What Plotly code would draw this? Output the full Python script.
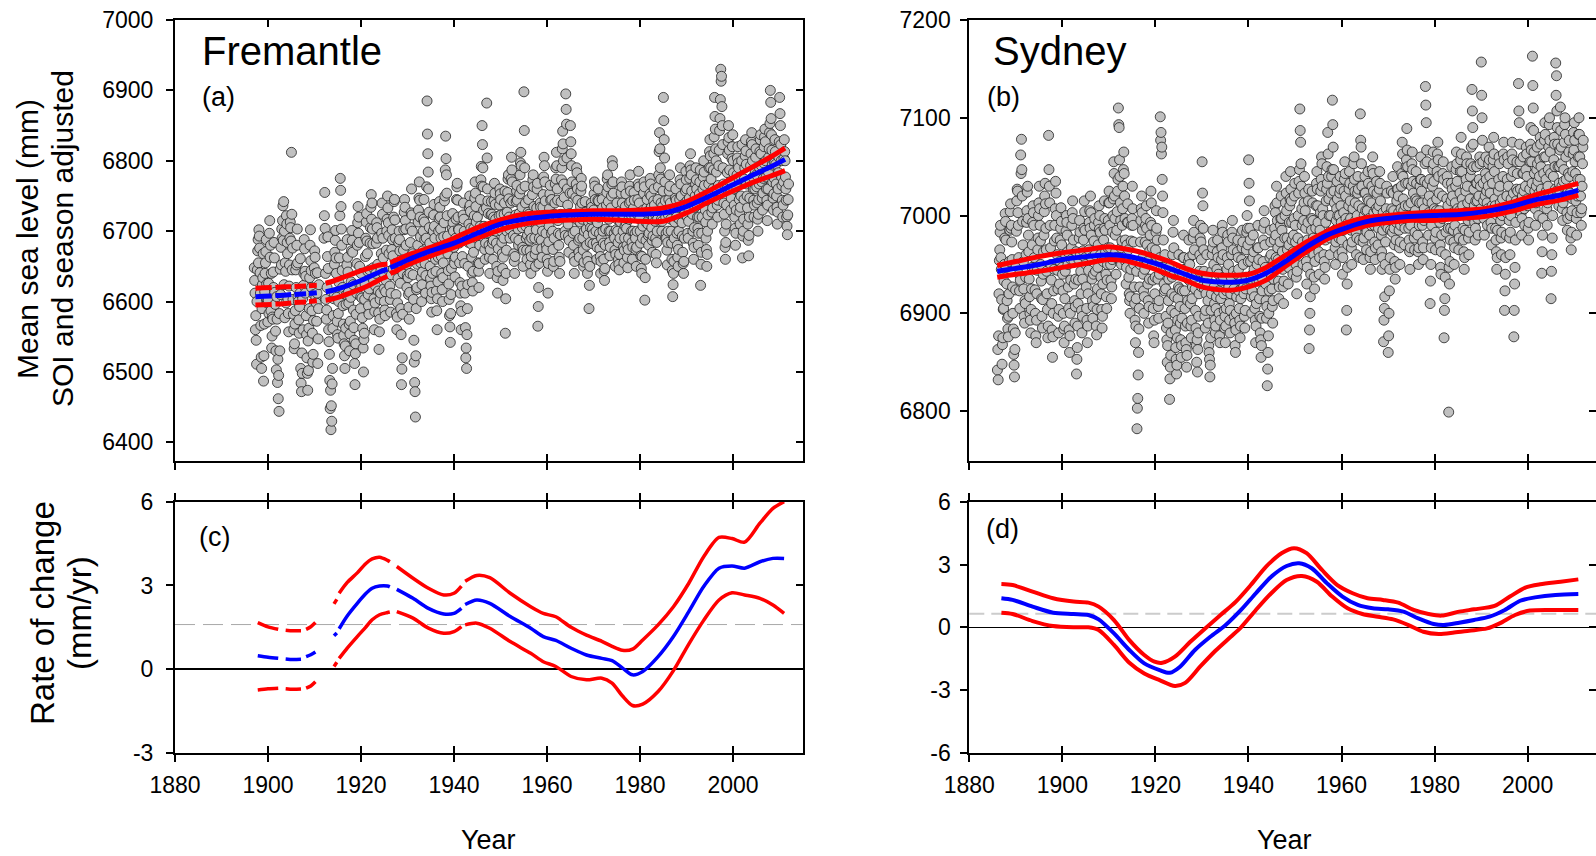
import plotly.graph_objects as go

W, H = 1596, 856
FONT = "Liberation Sans, Arial, sans-serif"

# ---------------- axis ticks ----------------
year_ticks = [1880, 1900, 1920, 1940, 1960, 1980, 2000]
fre_msl_ticks = [6400, 6500, 6600, 6700, 6800, 6900, 7000]
syd_msl_ticks = [6800, 6900, 7000, 7100, 7200]
fre_rate_ticks = [-3, 0, 3, 6]
syd_rate_ticks = [-6, -3, 0, 3, 6]

fre_mean_rate = 1.6
syd_mean_rate = 0.65

# ---------------- Fremantle MSL: odd months (Jan, Mar, ... Nov) ----------------
fre_years = list(range(1897, 1911)) + list(range(1912, 2012))
fre_msl_odd = [
    [6648, 6612, 6580, 6511, 6645, 6688], [6702, 6676, 6612, 6521, 6590, 6634],
    [6487, 6568, 6640, 6671, 6625, 6598], [6602, 6583, 6715, 6680, 6640, 6551],
    [6575, 6620, 6662, 6596, 6530, 6607], [6485, 6462, 6444, 6530, 6610, 6652],
    [6690, 6736, 6742, 6700, 6655, 6598], [6710, 6668, 6583, 6622, 6690, 6705],
    [6812, 6645, 6603, 6560, 6540, 6587], [6620, 6680, 6655, 6600, 6555, 6612],
    [6505, 6472, 6498, 6560, 6640, 6675], [6612, 6580, 6520, 6474, 6502, 6590],
    [6680, 6658, 6620, 6555, 6525, 6610], [6672, 6640, 6598, 6612, 6512, 6590],
    [6690, 6755, 6640, 6575, 6620, 6692], [6560, 6525, 6448, 6418, 6430, 6505],
    [6580, 6612, 6670, 6701, 6640, 6572], [6548, 6600, 6662, 6775, 6735, 6680],
    [6620, 6568, 6540, 6505, 6562, 6610], [6688, 6642, 6598, 6530, 6572, 6628],
    [6701, 6670, 6588, 6545, 6482, 6540], [6612, 6680, 6735, 6720, 6650, 6590],
    [6640, 6605, 6562, 6500, 6555, 6625], [6690, 6725, 6668, 6610, 6582, 6645],
    [6705, 6752, 6740, 6682, 6630, 6560], [6598, 6640, 6712, 6690, 6615, 6532],
    [6575, 6612, 6668, 6740, 6690, 6640], [6600, 6580, 6630, 6700, 6750, 6712],
    [6668, 6622, 6585, 6638, 6702, 6665], [6720, 6745, 6690, 6610, 6560, 6598],
    [6655, 6700, 6672, 6590, 6482, 6520], [6640, 6702, 6745, 6715, 6680, 6620],
    [6660, 6610, 6575, 6640, 6705, 6760], [6700, 6638, 6545, 6485, 6436, 6590],
    [6620, 6680, 6730, 6770, 6720, 6655], [6600, 6642, 6700, 6745, 6688, 6612],
    [6690, 6885, 6810, 6760, 6705, 6650], [6622, 6585, 6640, 6700, 6738, 6690],
    [6660, 6615, 6560, 6628, 6700, 6742], [6720, 6690, 6640, 6600, 6655, 6712],
    [6750, 6835, 6780, 6722, 6668, 6625], [6580, 6542, 6610, 6680, 6725, 6700],
    [6660, 6635, 6690, 6745, 6768, 6720], [6702, 6655, 6612, 6560, 6622, 6690],
    [6740, 6700, 6612, 6520, 6505, 6590], [6650, 6710, 6750, 6728, 6682, 6640],
    [6615, 6670, 6722, 6770, 6735, 6690], [6720, 6655, 6620, 6680, 6745, 6792],
    [6850, 6790, 6730, 6690, 6660, 6705], [6882, 6760, 6725, 6680, 6640, 6700],
    [6742, 6695, 6660, 6720, 6768, 6738], [6700, 6650, 6612, 6675, 6722, 6760],
    [6745, 6700, 6668, 6630, 6690, 6740], [6555, 6640, 6700, 6755, 6780, 6720],
    [6690, 6740, 6805, 6770, 6712, 6668], [6640, 6690, 6742, 6765, 6720, 6680],
    [6725, 6780, 6812, 6760, 6705, 6650], [6898, 6790, 6740, 6690, 6660, 6712],
    [6745, 6700, 6672, 6640, 6690, 6752], [6780, 6735, 6690, 6650, 6702, 6760],
    [6565, 6620, 6690, 6740, 6712, 6675], [6700, 6752, 6805, 6770, 6720, 6680],
    [6660, 6612, 6685, 6732, 6765, 6720], [6745, 6700, 6650, 6690, 6740, 6790],
    [6812, 6760, 6715, 6680, 6640, 6695], [6742, 6790, 6842, 6800, 6748, 6700],
    [6895, 6852, 6760, 6710, 6670, 6725], [6850, 6810, 6770, 6720, 6680, 6640],
    [6700, 6748, 6790, 6760, 6715, 6670], [6690, 6735, 6775, 6740, 6690, 6650],
    [6700, 6742, 6720, 6680, 6640, 6695], [6590, 6650, 6705, 6740, 6720, 6682],
    [6730, 6770, 6745, 6700, 6660, 6712], [6760, 6720, 6675, 6640, 6690, 6745],
    [6700, 6660, 6630, 6680, 6720, 6755], [6780, 6742, 6700, 6665, 6700, 6750],
    [6800, 6770, 6722, 6690, 6650, 6702], [6740, 6700, 6660, 6645, 6690, 6730],
    [6770, 6740, 6700, 6655, 6690, 6735], [6712, 6680, 6648, 6690, 6740, 6780],
    [6742, 6700, 6660, 6700, 6755, 6722], [6690, 6650, 6700, 6745, 6785, 6740],
    [6700, 6665, 6640, 6690, 6730, 6770], [6602, 6660, 6712, 6745, 6710, 6680],
    [6730, 6775, 6750, 6705, 6670, 6720], [6760, 6725, 6690, 6655, 6700, 6745],
    [6780, 6840, 6790, 6740, 6700, 6735], [6890, 6830, 6770, 6720, 6690, 6652],
    [6700, 6745, 6780, 6740, 6700, 6660], [6607, 6640, 6690, 6730, 6760, 6720],
    [6680, 6650, 6700, 6745, 6790, 6750], [6712, 6670, 6640, 6690, 6740, 6785],
    [6760, 6720, 6690, 6730, 6775, 6810], [6780, 6740, 6700, 6660, 6705, 6750],
    [6790, 6760, 6720, 6680, 6720, 6770], [6623, 6670, 6720, 6760, 6800, 6765],
    [6730, 6690, 6650, 6700, 6745, 6790], [6830, 6790, 6750, 6710, 6760, 6810],
    [6890, 6845, 6800, 6760, 6720, 6765], [6815, 6860, 6930, 6920, 6850, 6790],
    [6740, 6700, 6660, 6710, 6760, 6810], [6850, 6815, 6770, 6730, 6770, 6820],
    [6800, 6760, 6720, 6680, 6730, 6780], [6820, 6790, 6745, 6710, 6750, 6800],
    [6662, 6700, 6745, 6790, 6830, 6795], [6750, 6710, 6665, 6720, 6770, 6810],
    [6840, 6800, 6760, 6720, 6760, 6805], [6780, 6740, 6700, 6745, 6790, 6830],
    [6810, 6770, 6730, 6775, 6820, 6845], [6800, 6760, 6715, 6760, 6805, 6840],
    [6900, 6860, 6815, 6770, 6730, 6775], [6830, 6795, 6750, 6710, 6760, 6805],
    [6890, 6850, 6800, 6765, 6720, 6770], [6830, 6800, 6760, 6720, 6695, 6745],
]

# ---------------- Fremantle MSL: even months (Feb, Apr, ... Dec) ----------------
fre_msl_even = [
    [6630, 6560, 6545, 6600, 6672, 6655], [6693, 6641, 6566, 6505, 6624, 6668],
    [6523, 6614, 6655, 6688, 6602, 6571], [6626, 6697, 6663, 6587, 6534, 6578],
    [6642, 6684, 6613, 6558, 6503, 6575], [6518, 6495, 6583, 6646, 6677, 6703],
    [6715, 6687, 6624, 6577, 6643, 6722], [6684, 6604, 6557, 6652, 6713, 6686],
    [6724, 6676, 6582, 6533, 6568, 6645], [6652, 6703, 6607, 6574, 6593, 6661],
    [6484, 6527, 6604, 6623, 6688, 6643], [6636, 6553, 6498, 6544, 6562, 6634],
    [6702, 6644, 6587, 6514, 6573, 6648], [6663, 6606, 6572, 6641, 6547, 6624],
    [6722, 6704, 6603, 6588, 6664, 6647], [6543, 6488, 6474, 6452, 6483, 6562],
    [6604, 6653, 6687, 6662, 6606, 6553], [6583, 6627, 6722, 6758, 6703, 6644],
    [6594, 6552, 6523, 6537, 6596, 6652], [6663, 6613, 6568, 6554, 6606, 6672],
    [6687, 6624, 6563, 6512, 6526, 6582], [6654, 6712, 6697, 6684, 6623, 6607],
    [6623, 6577, 6534, 6546, 6603, 6664], [6713, 6686, 6643, 6594, 6618, 6683],
    [6734, 6717, 6703, 6648, 6604, 6586], [6622, 6683, 6705, 6653, 6584, 6557],
    [6603, 6644, 6697, 6724, 6662, 6618], [6588, 6614, 6673, 6717, 6733, 6694],
    [6643, 6603, 6612, 6674, 6688, 6646], [6742, 6716, 6654, 6583, 6578, 6633],
    [6684, 6688, 6626, 6553, 6504, 6582], [6673, 6727, 6734, 6703, 6652, 6637],
    [6634, 6592, 6613, 6684, 6726, 6723], [6668, 6603, 6514, 6472, 6523, 6617],
    [6653, 6713, 6747, 6744, 6692, 6634], [6624, 6672, 6717, 6713, 6654, 6637],
    [6763, 6838, 6784, 6727, 6683, 6633], [6604, 6613, 6668, 6723, 6707, 6664],
    [6643, 6587, 6604, 6663, 6718, 6734], [6703, 6664, 6617, 6634, 6692, 6743],
    [6787, 6803, 6754, 6693, 6644, 6603], [6564, 6583, 6647, 6704, 6712, 6677],
    [6654, 6663, 6717, 6763, 6744, 6703], [6683, 6627, 6594, 6586, 6664, 6723],
    [6717, 6654, 6563, 6534, 6553, 6624], [6684, 6733, 6737, 6704, 6663, 6627],
    [6643, 6704, 6747, 6754, 6713, 6696], [6694, 6643, 6654, 6707, 6773, 6764],
    [6823, 6763, 6707, 6674, 6683, 6733], [6804, 6743, 6697, 6663, 6674, 6723],
    [6724, 6683, 6687, 6743, 6754, 6717], [6683, 6634, 6643, 6704, 6737, 6753],
    [6723, 6684, 6647, 6663, 6724, 6757], [6604, 6673, 6727, 6774, 6746, 6703],
    [6713, 6774, 6787, 6743, 6694, 6657], [6664, 6723, 6757, 6744, 6703, 6687],
    [6753, 6797, 6793, 6734, 6677, 6673], [6843, 6764, 6707, 6673, 6694, 6727],
    [6724, 6687, 6653, 6664, 6717, 6773], [6763, 6714, 6667, 6674, 6733, 6768],
    [6593, 6654, 6717, 6734, 6687, 6663], [6734, 6777, 6793, 6743, 6697, 6674],
    [6643, 6654, 6707, 6753, 6744, 6697], [6723, 6674, 6657, 6724, 6767, 6774],
    [6793, 6744, 6697, 6663, 6657, 6724], [6773, 6817, 6824, 6767, 6723, 6694],
    [6873, 6804, 6737, 6693, 6687, 6754], [6827, 6793, 6754, 6697, 6663, 6657],
    [6724, 6767, 6783, 6744, 6687, 6663], [6713, 6757, 6764, 6717, 6673, 6656],
    [6724, 6727, 6703, 6664, 6657, 6713], [6623, 6684, 6717, 6734, 6703, 6696],
    [6753, 6764, 6717, 6683, 6677, 6744], [6743, 6697, 6664, 6657, 6724, 6733],
    [6683, 6644, 6647, 6703, 6737, 6774], [6763, 6717, 6684, 6677, 6733, 6767],
    [6793, 6754, 6697, 6673, 6667, 6724], [6717, 6684, 6653, 6667, 6713, 6754],
    [6763, 6724, 6677, 6673, 6707, 6753], [6704, 6663, 6674, 6717, 6764, 6757],
    [6723, 6684, 6677, 6733, 6744, 6697], [6674, 6677, 6724, 6767, 6763, 6717],
    [6683, 6647, 6664, 6707, 6754, 6763], [6634, 6687, 6733, 6727, 6694, 6697],
    [6753, 6767, 6734, 6687, 6693, 6743], [6737, 6714, 6667, 6684, 6717, 6763],
    [6813, 6817, 6774, 6717, 6714, 6757], [6857, 6804, 6743, 6697, 6673, 6684],
    [6723, 6757, 6764, 6717, 6683, 6644], [6624, 6657, 6713, 6747, 6744, 6697],
    [6663, 6674, 6717, 6773, 6767, 6734], [6693, 6654, 6657, 6724, 6757, 6773],
    [6743, 6697, 6714, 6747, 6793, 6787], [6757, 6724, 6683, 6677, 6734, 6767],
    [6773, 6737, 6704, 6697, 6753, 6787], [6653, 6697, 6744, 6777, 6784, 6747],
    [6713, 6674, 6667, 6723, 6767, 6813], [6807, 6774, 6727, 6733, 6787, 6834],
    [6863, 6817, 6784, 6737, 6744, 6793], [6843, 6887, 6913, 6877, 6823, 6767],
    [6724, 6677, 6684, 6737, 6783, 6827], [6833, 6787, 6754, 6747, 6803, 6837],
    [6783, 6737, 6704, 6697, 6763, 6804], [6797, 6774, 6727, 6734, 6777, 6823],
    [6693, 6717, 6774, 6807, 6814, 6767], [6733, 6687, 6694, 6747, 6793, 6827],
    [6823, 6777, 6744, 6737, 6784, 6817], [6763, 6717, 6724, 6767, 6813, 6837],
    [6793, 6747, 6754, 6797, 6834, 6827], [6777, 6744, 6737, 6784, 6817, 6853],
    [6883, 6837, 6794, 6747, 6753, 6797], [6813, 6767, 6734, 6727, 6783, 6827],
    [6867, 6823, 6777, 6744, 6737, 6803], [6813, 6777, 6744, 6707, 6723, 6767],
]

# ---------------- Sydney MSL: odd months ----------------
syd_years = list(range(1886, 2012))
syd_msl_odd = [
    [6842, 6832, 6920, 6965, 6990, 6945], [6848, 6875, 6905, 6950, 7002, 6975],
    [6930, 6895, 6876, 6920, 6985, 7012], [6990, 6955, 6900, 6858, 6835, 6880],
    [6950, 7015, 7025, 6990, 6940, 6905], [7062, 7078, 7020, 6970, 6925, 6890],
    [6910, 6960, 7005, 7030, 6980, 6935], [6900, 6880, 6925, 6970, 7010, 6990],
    [6945, 6900, 6870, 6920, 6965, 7000], [7030, 6990, 6950, 6915, 6885, 6940],
    [6980, 7020, 7012, 6965, 6920, 6875], [7082, 7030, 6990, 6950, 6910, 6855],
    [6900, 6945, 6990, 7035, 7000, 6960], [6925, 6880, 6930, 6975, 7008, 6970],
    [6940, 6900, 6870, 6915, 6960, 7000], [6980, 6950, 6905, 6860, 6900, 6955],
    [6990, 7015, 6975, 6930, 6890, 6935], [6838, 6865, 6910, 6955, 6995, 6960],
    [6920, 6880, 6935, 6975, 7015, 6985], [6950, 6905, 6870, 6920, 6965, 7005],
    [7020, 6980, 6935, 6895, 6940, 6990], [6960, 6915, 6878, 6925, 6970, 7010],
    [7000, 6960, 6920, 6885, 6930, 6975], [7015, 6985, 6940, 6905, 6950, 6995],
    [7025, 6990, 6950, 6915, 6955, 7000], [7055, 7020, 6980, 6940, 6985, 7025],
    [7110, 7090, 7040, 6995, 6950, 6990], [7030, 7065, 7020, 6975, 6930, 6970],
    [7012, 6965, 6920, 6900, 6945, 6990], [7030, 6990, 6950, 6910, 6870, 6915],
    [6782, 6813, 6860, 6905, 6950, 6995], [7020, 6985, 6940, 6900, 6945, 6990],
    [7010, 6970, 6930, 6890, 6935, 6980], [7025, 6990, 6950, 6905, 6870, 6920],
    [6965, 7005, 6975, 6935, 6895, 6940], [7101, 7085, 7070, 7020, 6975, 6930],
    [6960, 6925, 6885, 6850, 6890, 6935], [6812, 6845, 6880, 6920, 6960, 6995],
    [6940, 6900, 6865, 6838, 6875, 6915], [6960, 6925, 6890, 6855, 6895, 6940],
    [6980, 6945, 6905, 6870, 6845, 6890], [6935, 6975, 6950, 6910, 6875, 6915],
    [6960, 6995, 6965, 6925, 6885, 6850], [6840, 6880, 6920, 6960, 6990, 6955],
    [7055, 7010, 6965, 6925, 6885, 6920], [6960, 6930, 6890, 6860, 6835, 6875],
    [6920, 6960, 6985, 6950, 6910, 6880], [6905, 6945, 6975, 6940, 6900, 6870],
    [6915, 6955, 6990, 6960, 6920, 6885], [6870, 6905, 6945, 6980, 6950, 6910],
    [6880, 6920, 6960, 6995, 6965, 6925], [6890, 6860, 6900, 6940, 6975, 6945],
    [6905, 6875, 6915, 6955, 6985, 6950], [6920, 6885, 6925, 6965, 7000, 6970],
    [7057, 7015, 6975, 6935, 6900, 6940], [6980, 6945, 6905, 6870, 6910, 6950],
    [6990, 6955, 6915, 6880, 6855, 6895], [6935, 6975, 7005, 6970, 6930, 6895],
    [6826, 6860, 6900, 6945, 6985, 6960], [6925, 6890, 6935, 6975, 7010, 6980],
    [7030, 6995, 6955, 6915, 6950, 6990], [7020, 6985, 6945, 6910, 6955, 7000],
    [7040, 7005, 6965, 6930, 6970, 7010], [7045, 7015, 6975, 6940, 6980, 7020],
    [6990, 6950, 6920, 6960, 7000, 7035], [7109, 7075, 7030, 6990, 6950, 6995],
    [7040, 7005, 6965, 6930, 6975, 7015], [6864, 6900, 6940, 6985, 7025, 6995],
    [6960, 6925, 6970, 7010, 7045, 7010], [6975, 6940, 6985, 7025, 7060, 7030],
    [7000, 6960, 6935, 6975, 7015, 7050], [7085, 7040, 7000, 6960, 7000, 7040],
    [7118, 7070, 7025, 6985, 6950, 6995], [7035, 7000, 6960, 7000, 7040, 7010],
    [6975, 6940, 6985, 7025, 7055, 7020], [6883, 6930, 6970, 7010, 7045, 7015],
    [6985, 6950, 6990, 7030, 7060, 7025], [6995, 6960, 7000, 7040, 7010, 6975],
    [7104, 7070, 7030, 6990, 6955, 7000], [7040, 7005, 6965, 7005, 7045, 7015],
    [6980, 6945, 6990, 7030, 7060, 7025], [6990, 6955, 6995, 7035, 7005, 6970],
    [7010, 7045, 7015, 6980, 6945, 6985], [6871, 6905, 6950, 6990, 7030, 7000],
    [6860, 6900, 6945, 6985, 7025, 6995], [7040, 7005, 6970, 6935, 6975, 7015],
    [7050, 7020, 6985, 6950, 6990, 7030], [7075, 7040, 7005, 6970, 7010, 7050],
    [7089, 7050, 7010, 6975, 6945, 6990], [7030, 7065, 7035, 7000, 6965, 7005],
    [7045, 7015, 6980, 6950, 6990, 7030], [7060, 7025, 6990, 6955, 6995, 7035],
    [7132, 7095, 7055, 7015, 6980, 7020], [6910, 6950, 6990, 7030, 7065, 7035],
    [7000, 6965, 7005, 7045, 7075, 7040], [7005, 6970, 6940, 6980, 7020, 7055],
    [6875, 6915, 6960, 7000, 7040, 7010], [6799, 6930, 6975, 7015, 7050, 7020],
    [6985, 6950, 6990, 7030, 7065, 7035], [7000, 6965, 7005, 7045, 7080, 7045],
    [7010, 6975, 6945, 6985, 7025, 7060], [7030, 6995, 6960, 7000, 7040, 7070],
    [7129, 7090, 7050, 7010, 6975, 7015], [7050, 7015, 6980, 7020, 7060, 7030],
    [7157, 7100, 7055, 7015, 6980, 7020], [7060, 7025, 6990, 7030, 7070, 7040],
    [7005, 6970, 7010, 7050, 7080, 7045], [7010, 6975, 6945, 6985, 7025, 7060],
    [7030, 6995, 6960, 7000, 7040, 7075], [6903, 6940, 6980, 7020, 7060, 7030],
    [6995, 6960, 7000, 7040, 7075, 7045], [6876, 6930, 6975, 7015, 7055, 7025],
    [7135, 7095, 7055, 7015, 6980, 7020], [7060, 7025, 6990, 7030, 7070, 7040],
    [7010, 6975, 7015, 7055, 7090, 7055], [7163, 7110, 7065, 7025, 6990, 7030],
    [7070, 7035, 7000, 7040, 7080, 7050], [6941, 6980, 7020, 7060, 7095, 7060],
    [7025, 6990, 7030, 7070, 7100, 7065], [6915, 6960, 7000, 7040, 7080, 7050],
    [7156, 7143, 7090, 7050, 7010, 7050], [7111, 7070, 7030, 6995, 7035, 7075],
    [7100, 7060, 7020, 6985, 7025, 7065], [7040, 7000, 6965, 7005, 7045, 7085],
    [7095, 7055, 7015, 6980, 7020, 7060], [7100, 7060, 7020, 6990, 7030, 7070],
]

# ---------------- Sydney MSL: even months ----------------
syd_msl_even = [
    [6863, 6877, 6954, 6983, 6957, 6914], [6868, 6904, 6933, 6977, 6994, 6947],
    [6913, 6884, 6897, 6953, 7004, 6987], [6973, 6927, 6884, 6847, 6863, 6924],
    [6984, 7027, 7003, 6957, 6923, 6934], [7043, 7047, 6994, 6953, 6897, 6913],
    [6937, 6993, 7024, 6997, 6963, 6917], [6893, 6904, 6947, 6993, 7003, 6957],
    [6924, 6877, 6893, 6944, 6977, 7013], [7007, 6974, 6933, 6897, 6914, 6963],
    [7004, 7033, 6987, 6943, 6904, 6887], [7047, 7013, 6967, 6934, 6883, 6876],
    [6923, 6974, 7007, 7023, 6977, 6944], [6897, 6904, 6953, 6987, 6994, 6947],
    [6923, 6884, 6887, 6943, 6984, 6993], [6963, 6927, 6883, 6877, 6934, 6967],
    [7003, 6997, 6954, 6913, 6907, 6963], [6853, 6887, 6934, 6977, 6983, 6943],
    [6903, 6897, 6964, 6987, 7004, 6957], [6927, 6893, 6887, 6944, 6993, 6987],
    [7003, 6957, 6913, 6907, 6974, 6997], [6943, 6887, 6904, 6947, 6993, 6986],
    [6983, 6937, 6904, 6897, 6953, 6987], [6997, 6963, 6917, 6934, 6967, 7013],
    [7013, 6967, 6934, 6927, 6983, 7017], [7043, 6997, 6963, 6957, 7004, 7037],
    [7093, 7057, 7013, 6967, 6974, 7007], [7047, 7043, 6997, 6953, 6947, 6993],
    [6993, 6937, 6913, 6917, 6974, 6997], [7007, 6973, 6927, 6893, 6887, 6943],
    [6803, 6837, 6884, 6927, 6973, 7007], [7003, 6957, 6923, 6917, 6973, 6997],
    [6987, 6953, 6913, 6907, 6964, 6993], [7013, 6967, 6934, 6877, 6893, 6937],
    [6983, 6987, 6954, 6907, 6913, 6957], [7077, 7063, 7037, 7003, 6947, 6923],
    [6943, 6897, 6873, 6867, 6913, 6947], [6833, 6857, 6903, 6937, 6983, 6967],
    [6917, 6883, 6853, 6847, 6893, 6927], [6943, 6907, 6873, 6867, 6923, 6957],
    [6957, 6923, 6887, 6863, 6857, 6913], [6953, 6957, 6933, 6887, 6893, 6927],
    [6977, 6983, 6937, 6903, 6867, 6873], [6863, 6897, 6943, 6977, 6973, 6927],
    [7023, 6987, 6943, 6897, 6903, 6937], [6937, 6913, 6867, 6853, 6847, 6903],
    [6943, 6967, 6973, 6927, 6893, 6887], [6917, 6963, 6957, 6923, 6877, 6893],
    [6933, 6967, 6983, 6937, 6903, 6897], [6887, 6923, 6957, 6973, 6927, 6893],
    [6903, 6937, 6983, 6977, 6943, 6897], [6867, 6883, 6917, 6963, 6957, 6923],
    [6893, 6887, 6933, 6967, 6973, 6927], [6897, 6903, 6937, 6983, 6987, 6953],
    [7033, 6987, 6953, 6917, 6923, 6957], [6963, 6917, 6893, 6887, 6933, 6967],
    [6967, 6933, 6897, 6873, 6867, 6923], [6953, 6987, 6993, 6947, 6913, 6907],
    [6843, 6877, 6923, 6957, 6973, 6937], [6907, 6913, 6953, 6987, 7003, 6957],
    [7013, 6967, 6933, 6927, 6973, 6997], [6997, 6963, 6927, 6933, 6977, 7013],
    [7023, 6977, 6953, 6947, 6993, 7017], [7027, 6993, 6957, 6963, 6997, 7033],
    [6973, 6937, 6943, 6977, 7023, 7047], [7087, 7053, 7007, 6973, 6967, 7013],
    [7023, 6987, 6953, 6947, 6993, 7027], [6883, 6917, 6963, 6997, 7013, 6977],
    [6937, 6953, 6987, 7033, 7027, 6993], [6963, 6957, 7003, 7037, 7053, 7007],
    [6977, 6953, 6947, 6993, 7027, 7033], [7063, 7017, 6983, 6977, 7023, 7047],
    [7093, 7047, 7013, 6967, 6973, 7007], [7017, 6983, 6977, 7023, 7027, 6993],
    [6963, 6957, 7003, 7037, 7043, 6997], [6903, 6947, 6993, 7027, 7033, 6997],
    [6967, 6973, 7007, 7053, 7037, 7013], [6983, 6977, 7023, 7027, 6993, 6957],
    [7077, 7053, 7007, 6973, 6977, 7023], [7023, 6987, 6983, 7017, 7033, 6997],
    [6957, 6963, 7013, 7047, 7043, 7003], [6973, 6967, 7007, 7023, 6993, 6987],
    [7027, 7033, 6997, 6963, 6957, 7003], [6893, 6917, 6973, 7007, 7023, 6987],
    [6877, 6923, 6957, 7003, 7007, 6983], [7023, 6987, 6953, 6947, 6993, 7027],
    [7027, 7003, 6967, 6973, 7007, 7043], [7063, 7017, 6993, 6987, 7033, 7057],
    [7067, 7033, 6987, 6963, 6967, 7013], [7053, 7047, 7023, 6977, 6983, 7017],
    [7033, 6997, 6963, 6967, 7013, 7037], [7037, 7013, 6973, 6967, 7007, 7053],
    [7113, 7067, 7033, 6997, 7003, 7037], [6933, 6967, 7013, 7047, 7053, 7007],
    [6977, 6983, 7017, 7063, 7057, 7023], [6993, 6947, 6963, 6997, 7043, 7037],
    [6903, 6937, 6983, 7017, 7033, 6987], [6947, 6953, 6987, 7033, 7027, 7003],
    [6973, 6967, 7013, 7047, 7053, 7007], [6983, 6977, 7023, 7057, 7063, 7017],
    [6987, 6963, 6957, 7003, 7037, 7053], [7013, 6977, 6983, 7017, 7053, 7047],
    [7107, 7073, 7027, 6993, 6987, 7033], [7033, 6997, 7003, 7037, 7053, 7007],
    [7123, 7077, 7033, 6997, 7003, 7043], [7037, 7013, 7007, 7053, 7057, 7023],
    [6993, 6987, 7033, 7057, 7063, 7017], [6987, 6963, 6957, 7003, 7037, 7053],
    [7013, 6977, 6983, 7017, 7063, 7057], [6923, 6957, 7003, 7037, 7053, 7007],
    [6977, 6983, 7017, 7063, 7057, 7023], [6903, 6947, 6993, 7027, 7043, 7007],
    [7107, 7073, 7027, 7003, 6997, 7043], [7043, 7007, 7013, 7047, 7063, 7017],
    [6987, 6993, 7027, 7073, 7067, 7033], [7133, 7087, 7043, 7007, 7013, 7047],
    [7053, 7017, 7023, 7057, 7073, 7027], [6963, 6997, 7043, 7077, 7083, 7037],
    [7007, 7013, 7047, 7093, 7077, 7043], [6943, 6977, 7023, 7057, 7073, 7027],
    [7123, 7107, 7073, 7027, 7033, 7067], [7087, 7053, 7007, 7013, 7047, 7093],
    [7083, 7037, 7003, 6997, 7043, 7077], [7023, 6977, 6983, 7017, 7063, 7067],
    [7077, 7043, 6997, 7003, 7037, 7083], [7083, 7037, 7003, 7007, 7053, 7077],
]

# ---------------- Fremantle fitted trend and 95% limits ----------------
fre_fit_years = [1897.3, 1899.0, 1900.8, None, 1901.6, 1903.3, 1905.0, None, 1905.7, 1908.2, None,
                 1908.8, 1910.5, None, 1912.4, 1914.0, 1916.0, 1918.0, 1920.0, 1922.0, 1924.0, 1925.7, None,
                 1926.3, 1928.0, 1930.0, 1935.0, 1940.0, 1945.0, 1950.0, 1955.0, 1960.0, 1965.0, 1970.0,
                 1975.0, 1980.0, 1985.0, 1990.0, 1995.0, 2000.0, 2005.0, 2008.0, 2011.2]
fre_fit_mid = [6607, 6607.5, 6608, None, 6608.5, 6609, 6610, None, 6610, 6611, None,
               6611.5, 6612.5, None, 6614, 6616, 6620, 6625, 6630, 6636, 6642, 6646, None,
               6648, 6653, 6659, 6672, 6683, 6697, 6710, 6717, 6721, 6723, 6724,
               6724, 6724, 6726, 6735, 6750, 6766, 6782, 6791, 6802]
fre_fit_upper = [6619, 6619.5, 6620, None, 6620, 6621, 6621, None, 6621.5, 6622, None,
                 6622.5, 6623, None, 6626, 6629, 6634, 6639, 6644, 6648, 6652, 6653, None,
                 6655, 6660, 6666, 6677, 6690, 6705, 6716, 6724, 6727, 6728, 6729,
                 6729, 6730, 6733, 6742, 6758, 6776, 6794, 6805, 6818]
fre_fit_lower = [6595, 6595.5, 6596, None, 6596.5, 6597, 6598, None, 6598.5, 6599.5, None,
                 6600, 6601, None, 6602, 6604, 6608, 6613, 6618, 6624, 6631, 6636, None,
                 6640, 6645, 6652, 6665, 6677, 6690, 6702, 6710, 6714, 6716, 6717,
                 6716, 6714, 6714, 6726, 6742, 6757, 6771, 6778, 6786]

# ---------------- Sydney fitted trend and 95% limits ----------------
syd_fit_years = [1886.0, 1890, 1895, 1900, 1905, 1910, 1913.3, 1916.5, 1920, 1923, 1926.4,
                 1930, 1934, 1937, 1940, 1943.8, 1948.2, 1952.5, 1956.9, 1961.3, 1965.6,
                 1970, 1974.4, 1979.8, 1985.3, 1990.7, 1996.2, 2001.6, 2007.1, 2010.9]
syd_fit_mid = [6943, 6946, 6950, 6955, 6958, 6960, 6959, 6956, 6951, 6946, 6940,
               6934, 6932, 6932, 6934, 6941, 6954, 6968, 6980, 6988, 6994,
               6997, 6999, 7000, 7001, 7004, 7009, 7016, 7021, 7026]
syd_fit_upper = [6949, 6953, 6958, 6962, 6965, 6968, 6966, 6963, 6958, 6953, 6946,
                 6941, 6939, 6939, 6940, 6947, 6960, 6973, 6984, 6993, 6998,
                 7000, 7002, 7004, 7005, 7007, 7013, 7021, 7028, 7033]
syd_fit_lower = [6937, 6940, 6943, 6947, 6951, 6955, 6954, 6950, 6945, 6939, 6934,
                 6927, 6924, 6924, 6927, 6934, 6949, 6963, 6976, 6984, 6990,
                 6993, 6995, 6995, 6997, 6999, 7004, 7011, 7016, 7021]

# ---------------- Fremantle rate of change ----------------
fre_rate_years = [1897.8, 1900.0, 1902.2, None, 1903.8, 1905.4, 1907.1, None, 1908.2, 1909.2, 1910.2, None,
                  1914.2, 1914.8, None, 1915.3, 1917.0, 1919.2, 1921.0, 1922.4, 1924.0, 1925.7, 1926.2, None,
                  1927.7, 1931.2, 1934.5, 1937.8, 1940.0, 1941.6, None,
                  1942.4, 1944.9, 1947.7, 1952.1, 1956.5, 1959.2, 1961.9, 1965.2, 1968.5, 1971.8, 1974.0,
                  1976.2, 1978.4, 1980.6, 1983.9, 1987.2, 1990.5, 1993.7, 1997.0, 1999.8, 2002.5, 2005.8,
                  2008.6, 2011.0]
fre_rate_mid = [0.48, 0.43, 0.39, None, 0.37, 0.35, 0.36, None, 0.45, 0.52, 0.62, None,
                1.2, 1.3, None, 1.45, 1.9, 2.36, 2.7, 2.9, 2.98, 2.98, 2.95, None,
                2.86, 2.54, 2.18, 1.98, 2.0, 2.18, None,
                2.32, 2.48, 2.36, 1.89, 1.47, 1.17, 1.03, 0.75, 0.51, 0.39, 0.31,
                0.05, -0.2, -0.08, 0.45, 1.17, 2.06, 2.96, 3.62, 3.7, 3.62, 3.85,
                3.97, 3.97]
fre_rate_upper = [1.67, 1.52, 1.43, None, 1.40, 1.38, 1.38, None, 1.43, 1.52, 1.67, None,
                  2.34, 2.5, None, 2.72, 3.1, 3.45, 3.78, 3.95, 4.01, 3.9, 3.85, None,
                  3.68, 3.26, 2.9, 2.66, 2.72, 2.98, None,
                  3.15, 3.36, 3.28, 2.72, 2.24, 2.0, 1.88, 1.5, 1.22, 1.0, 0.82,
                  0.68, 0.72, 1.05, 1.59, 2.24, 3.08, 4.03, 4.72, 4.68, 4.55, 5.23,
                  5.76, 6.0]
fre_rate_lower = [-0.74, -0.70, -0.68, None, -0.70, -0.72, -0.71, None, -0.68, -0.6, -0.45, None,
                  0.1, 0.25, None, 0.39, 0.75, 1.17, 1.5, 1.77, 1.95, 2.03, 2.05, None,
                  2.06, 1.83, 1.47, 1.29, 1.35, 1.53, None,
                  1.59, 1.65, 1.47, 0.99, 0.57, 0.27, 0.1, -0.26, -0.38, -0.32, -0.5,
                  -0.95, -1.3, -1.25, -0.8, -0.05, 0.9, 1.75, 2.48, 2.74, 2.66, 2.54,
                  2.3, 2.0]

# ---------------- Sydney rate of change ----------------
syd_rate_mid_years = [1886.9, 1889.3, 1893.6, 1898.0, 1902.4, 1905.6, 1907.8, 1911.1, 1914.4, 1917.6,
                      1920.9, 1923.1, 1925.3, 1928.5, 1931.8, 1935.1, 1938.4, 1941.6, 1944.9, 1948.2,
                      1950.9, 1953.6, 1956.9, 1960.2, 1963.5, 1966.7, 1970.0, 1973.3, 1976.5, 1979.8,
                      1982.0, 1985.3, 1988.5, 1991.8, 1995.1, 1998.4, 2001.6, 2006.0, 2010.9]
syd_rate_mid = [1.39, 1.31, 0.99, 0.70, 0.64, 0.59, 0.38, -0.29, -1.08, -1.72,
                -2.04, -2.17, -1.88, -1.08, -0.45, 0.11, 0.83, 1.63, 2.42, 2.93,
                3.06, 2.82, 2.10, 1.47, 1.07, 0.91, 0.86, 0.75, 0.43, 0.16,
                0.11, 0.22, 0.35, 0.51, 0.83, 1.27, 1.43, 1.55, 1.59]
syd_rate_upper_years = [1886.9, 1889.3, 1893.6, 1898.0, 1902.4, 1905.6, 1907.8, 1911.1, 1914.4, 1917.6,
                        1919.8, 1921.5, 1924.2, 1927.5, 1930.7, 1934.0, 1937.3, 1940.5, 1943.8, 1947.1,
                        1949.8, 1952.5, 1955.8, 1959.1, 1962.4, 1965.6, 1968.9, 1972.2, 1975.5, 1978.7,
                        1981.5, 1985.3, 1988.5, 1992.9, 1996.2, 1999.5, 2002.7, 2007.1, 2010.9]
syd_rate_upper = [2.07, 2.02, 1.71, 1.39, 1.23, 1.18, 0.99, 0.35, -0.61, -1.32,
                  -1.64, -1.69, -1.40, -0.69, -0.05, 0.59, 1.23, 2.02, 2.90, 3.54,
                  3.78, 3.54, 2.74, 2.02, 1.63, 1.39, 1.31, 1.18, 0.83, 0.64,
                  0.56, 0.75, 0.86, 1.02, 1.47, 1.90, 2.06, 2.18, 2.29]
syd_rate_lower_years = [1886.9, 1889.3, 1893.6, 1898.0, 1902.4, 1905.6, 1907.8, 1911.1, 1914.4, 1917.6,
                        1920.9, 1924.2, 1926.4, 1929.6, 1932.9, 1936.2, 1938.4, 1941.6, 1944.9, 1948.2,
                        1951.5, 1954.7, 1958.0, 1961.3, 1964.5, 1967.8, 1971.1, 1974.4, 1977.6, 1980.9,
                        1984.2, 1987.4, 1991.3, 1994.0, 1997.3, 2000.5, 2004.9, 2010.9]
syd_rate_lower = [0.70, 0.64, 0.30, 0.06, 0.00, 0.00, -0.13, -0.84, -1.69, -2.20,
                  -2.52, -2.80, -2.65, -1.88, -1.12, -0.45, 0.00, 0.83, 1.63, 2.26,
                  2.45, 2.18, 1.47, 0.91, 0.64, 0.51, 0.38, 0.11, -0.21, -0.32,
                  -0.25, -0.16, -0.05, 0.19, 0.59, 0.80, 0.83, 0.83]

RED = "#FF0000"
BLUE = "#0000FF"


def px_x(p):
    return p / W


def px_y(p):
    return 1 - p / H


def flatten(years, odd_rows, even_rows):
    """Monthly time stamps: odd months at (2k+0.5)/12, even months at (2k+1.5)/12."""
    xs, ys = [], []
    for yr, r1, r2 in zip(years, odd_rows, even_rows):
        for k in range(6):
            xs.append(yr + (2 * k + 0.5) / 12)
            ys.append(r1[k])
            xs.append(yr + (2 * k + 1.5) / 12)
            ys.append(r2[k])
    return xs, ys


def tick_text(vals):
    return [str(v) for v in vals]


fig = go.Figure()


def add_line(x, y, color, width, ax):
    fig.add_trace(go.Scatter(x=x, y=y, mode="lines", line=dict(color=color, width=width, shape="spline", smoothing=0.8),
                             xaxis="x" + ax, yaxis="y" + ax, showlegend=False, hoverinfo="skip", connectgaps=False))


MARKER = dict(size=10, color="#C0C0C0", line=dict(color="#202020", width=0.8))

# panel a
fx, fy = flatten(fre_years, fre_msl_odd, fre_msl_even)
fig.add_trace(go.Scatter(x=fx, y=fy, mode="markers", xaxis="x", yaxis="y", showlegend=False, marker=MARKER))
add_line(fre_fit_years, fre_fit_lower, RED, 5, "")
add_line(fre_fit_years, fre_fit_upper, RED, 5, "")
add_line(fre_fit_years, fre_fit_mid, BLUE, 5, "")

# panel b
sx, sy = flatten(syd_years, syd_msl_odd, syd_msl_even)
fig.add_trace(go.Scatter(x=sx, y=sy, mode="markers", xaxis="x2", yaxis="y2", showlegend=False, marker=MARKER))
add_line(syd_fit_years, syd_fit_lower, RED, 5, "2")
add_line(syd_fit_years, syd_fit_upper, RED, 5, "2")
add_line(syd_fit_years, syd_fit_mid, BLUE, 5, "2")

# panel c
add_line(fre_rate_years, fre_rate_lower, RED, 3.5, "3")
add_line(fre_rate_years, fre_rate_upper, RED, 3.5, "3")
add_line(fre_rate_years, fre_rate_mid, BLUE, 3.5, "3")

# panel d
add_line(syd_rate_lower_years, syd_rate_lower, RED, 4, "4")
add_line(syd_rate_upper_years, syd_rate_upper, RED, 4, "4")
add_line(syd_rate_mid_years, syd_rate_mid, BLUE, 4, "4")

# dummy traces so that the overlay tick axes exist
for i in range(1, 5):
    fig.add_trace(go.Scatter(x=[None], y=[None], xaxis=f"x{i+4}", yaxis="y" if i == 1 else f"y{i}",
                             showlegend=False, hoverinfo="skip"))
    fig.add_trace(go.Scatter(x=[None], y=[None], xaxis="x" if i == 1 else f"x{i}", yaxis=f"y{i+4}",
                             showlegend=False, hoverinfo="skip"))

tickfont = dict(family=FONT, size=23, color="black")

xdom_left = [px_x(175), px_x(802.7)]
xdom_right = [px_x(969.3), 1.0]
ydom_top = [px_y(461), px_y(20)]
ydom_bot = [px_y(753), px_y(501.7)]

panels = {
    1: dict(xd=xdom_left, yd=ydom_top, xr=[1880, 2015], yr=[6373.5, 7000], yt=fre_msl_ticks, lab=False, right=False),
    2: dict(xd=xdom_right, yd=ydom_top, xr=[1880, 2014.7], yr=[6749, 7200], yt=syd_msl_ticks, lab=False, right=True),
    3: dict(xd=xdom_left, yd=ydom_bot, xr=[1880, 2015], yr=[-3, 6], yt=fre_rate_ticks, lab=True, right=False),
    4: dict(xd=xdom_right, yd=ydom_bot, xr=[1880, 2014.7], yr=[-6, 6], yt=syd_rate_ticks, lab=True, right=True),
}

layout_axes = {}
for i, p in panels.items():
    xn = "xaxis" if i == 1 else f"xaxis{i}"
    yn = "yaxis" if i == 1 else f"yaxis{i}"
    xa = "x" if i == 1 else f"x{i}"
    ya = "y" if i == 1 else f"y{i}"
    layout_axes[xn] = dict(domain=p["xd"], range=p["xr"], anchor=ya, tickvals=year_ticks,
                           ticktext=tick_text(year_ticks),
                           ticks="outside", ticklen=7, tickwidth=2, tickcolor="black",
                           showline=True, linewidth=2, linecolor="black",
                           mirror="ticks" if p["lab"] else True,
                           showticklabels=p["lab"], tickfont=tickfont, ticklabelstandoff=3,
                           showgrid=False, zeroline=False, automargin=False)
    layout_axes[yn] = dict(domain=p["yd"], range=p["yr"], anchor=xa, tickvals=p["yt"],
                           ticktext=tick_text(p["yt"]),
                           ticks="outside", ticklen=7, tickwidth=2, tickcolor="black",
                           showline=True, linewidth=2, linecolor="black",
                           mirror=False if p["right"] else True,
                           tickfont=tickfont, ticklabelstandoff=5 if p["right"] else 8,
                           showgrid=False, automargin=False,
                           zeroline=p["lab"], zerolinecolor="black", zerolinewidth=1.5 if i == 3 else 1)
    layout_axes[f"xaxis{i+4}"] = dict(overlaying=xa, anchor=ya, range=p["xr"], tickvals=year_ticks,
                                      ticks="inside", ticklen=7, tickwidth=2, tickcolor="black",
                                      mirror="ticks", showline=False, showticklabels=False,
                                      showgrid=False, zeroline=False, automargin=False)
    layout_axes[f"yaxis{i+4}"] = dict(overlaying=ya, anchor=xa, side="right", range=p["yr"], tickvals=p["yt"],
                                      ticks="inside", ticklen=7, tickwidth=2, tickcolor="black",
                                      showline=False, showticklabels=False,
                                      showgrid=False, zeroline=False, automargin=False)

shapes = [
    dict(type="line", xref="x3 domain", yref="y3", x0=0, x1=1, y0=fre_mean_rate, y1=fre_mean_rate,
         line=dict(color="#A8A8A8", width=1, dash="20px,8px"), layer="below"),
    dict(type="line", xref="x4 domain", yref="y4", x0=0, x1=1, y0=syd_mean_rate, y1=syd_mean_rate,
         line=dict(color="#CCCCCC", width=2, dash="15px,7px"), layer="below"),
]


def ann(text, x, y, size, xanchor="left", angle=0):
    return dict(text=text, x=px_x(x), y=px_y(y), xref="paper", yref="paper", showarrow=False,
                xanchor=xanchor, yanchor="middle", textangle=angle,
                font=dict(family=FONT, size=size, color="black"))


annotations = [
    ann("Fremantle", 200, 51, 40),
    ann("(a)", 200, 97, 27),
    ann("Sydney", 991, 51, 40),
    ann("(b)", 985, 97, 27),
    ann("(c)", 197, 537, 27),
    ann("(d)", 984, 529, 27),
    ann("Mean sea level (mm)", 27, 239, 30, "center", -90),
    ann("SOI and season adjusted", 62, 239, 30, "center", -90),
    ann("Rate of change", 42, 613, 33, "center", -90),
    ann("(mm/yr)", 79, 613, 33, "center", -90),
    ann("Year", 488, 840, 27, "center"),
    ann("Year", 1284.5, 840, 27, "center"),
]

fig.update_layout(
    width=W, height=H, autosize=False,
    margin=dict(l=0, r=0, t=0, b=0, pad=0),
    paper_bgcolor="white", plot_bgcolor="white",
    font=dict(family=FONT, color="black"),
    showlegend=False,
    shapes=shapes,
    annotations=annotations,
    **layout_axes,
)

fig.write_html("out.html", config={"displayModeBar": False},
               post_script="document.body.style.margin='0px';")
